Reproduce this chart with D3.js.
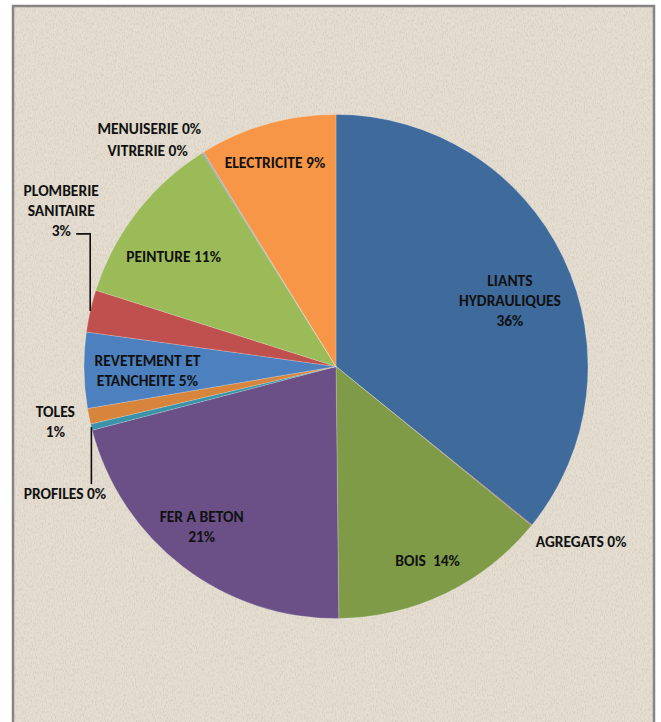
<!DOCTYPE html>
<html>
<head>
<meta charset="utf-8">
<script src="https://cdn.jsdelivr.net/npm/d3@7"></script>
<style>
  body { margin: 0; background: #fff; }
  svg text { font-family: Carlito, Calibri, Lato, sans-serif; font-weight: 700; font-size: 15.5px; fill: #111; }
</style>
</head>
<body>
<svg width="661" height="722"></svg>
<script>
const categories = ["LIANTS HYDRAULIQUES", "AGREGATS", "BOIS", "FER A BETON", "PROFILES", "TOLES",
  "REVETEMENT ET ETANCHEITE", "PLOMBERIE SANITAIRE", "PEINTURE", "VITRERIE", "MENUISERIE", "ELECTRICITE"];
const shares = [35.8, 0.05, 13.95, 21.1, 0.4, 1.0, 4.85, 2.7, 11.2, 0.05, 0.05, 8.8];
// label lines as printed on the chart ("" = the percent goes on its own line)
const labelLines = [["LIANTS", "HYDRAULIQUES", ""], ["AGREGATS"], ["BOIS "], ["FER A BETON", ""], ["PROFILES"], ["TOLES", ""],
  ["REVETEMENT ET", "ETANCHEITE"], ["PLOMBERIE", "SANITAIRE", ""], ["PEINTURE"], ["VITRERIE"], ["MENUISERIE"], ["ELECTRICITE"]];
const colors = ["#3F6A9C", "#A0413E", "#7F9B48", "#6A5087", "#3B93AA", "#D7843D",
  "#4C80BF", "#C0504D", "#9BBB59", "#8064A2", "#4BACC6", "#F79646"];

const svg = d3.select("svg");
const cx = 336, cy = 366.5, r = 252;

// background + frame
const defs = svg.append("defs");
const f = defs.append("filter").attr("id", "paper").attr("x", 0).attr("y", 0).attr("width", 1).attr("height", 1);
f.append("feTurbulence").attr("type", "fractalNoise").attr("baseFrequency", "0.9 0.35").attr("numOctaves", 2).attr("seed", 3).attr("result", "n");
f.append("feColorMatrix").attr("in", "n").attr("type", "matrix")
  .attr("values", "0 0 0 0 0.55  0 0 0 0 0.5  0 0 0 0 0.42  0 0 0 -1.1 0.62").attr("result", "c");
f.append("feComposite").attr("in", "c").attr("in2", "SourceGraphic").attr("operator", "in");

svg.append("rect").attr("x", 13).attr("y", 6).attr("width", 641).attr("height", 730).attr("fill", "#E4DDD0");
svg.append("rect").attr("x", 13).attr("y", 6).attr("width", 641).attr("height", 730).attr("fill", "#E4DDD0").attr("filter", "url(#paper)");
svg.append("rect").attr("x", 13).attr("y", 6).attr("width", 641).attr("height", 730)
  .attr("fill", "none").attr("stroke", "#858585").attr("stroke-width", 2.5);

const pie = d3.pie().sort(null).value(d => d);
const arcs = pie(shares);
const arc = d3.arc().innerRadius(0).outerRadius(r);
const total = d3.sum(shares);

const g = svg.append("g").attr("transform", `translate(${cx},${cy})`);
g.selectAll("path").data(arcs).join("path")
  .attr("d", arc)
  .attr("fill", (d, i) => colors[i])
  .attr("stroke", "rgba(255,255,255,0.4)")
  .attr("stroke-width", 0.5);

// label placement: [radius factor, dx, dy, anchor]
const place = {
  "LIANTS HYDRAULIQUES": [0.8, -8, 21, "middle"],
  "AGREGATS": [1, 4, 16, "start"],
  "BOIS": [0.8, 4, 12, "middle"],
  "FER A BETON": [0.8, -12, 0, "middle"],
  "PROFILES": [1, -26.5, 66, "middle"],
  "TOLES": [1, -33.6, 5, "middle"],
  "REVETEMENT ET ETANCHEITE": [0.8, 13, 1, "middle"],
  "PLOMBERIE SANITAIRE": [1, -29, -100, "middle"],
  "PEINTURE": [0.8, -3, 13.5, "middle"],
  "VITRERIE": [1, -55, -2, "middle"],
  "MENUISERIE": [1, -54, -23.6, "middle"],
  "ELECTRICITE": [0.8, -6, -10, "middle"]
};
const lineH = 20;
const mid = d => (d.startAngle + d.endAngle) / 2;
const polar = (a, rad) => [rad * Math.sin(a), -rad * Math.cos(a)];

arcs.forEach((d, i) => {
  const [k, dx, dy, anchor] = place[categories[i]];
  const [px, py] = polar(mid(d), r * k);
  const lx = px + dx, ly = py + dy;
  const pct = Math.round(shares[i] / total * 100) + "%";
  const lines = labelLines[i].slice();
  const last = lines.length - 1;
  lines[last] = lines[last] === "" ? pct : lines[last] + " " + pct;
  const t = g.append("text").attr("text-anchor", anchor).attr("xml:space", "preserve");
  lines.forEach((s, j) => {
    t.append("tspan").attr("x", lx).attr("y", ly + (j - (lines.length - 1) / 2) * lineH)
      .attr("dy", "0.35em").text(s);
  });
});

// leader lines
const lead = d3.line();
function edge(name) {
  const i = categories.indexOf(name);
  return polar(mid(arcs[i]), r);
}
const pr = edge("PROFILES");
g.append("path").attr("d", lead([pr, [pr[0], pr[1] + 57]]))
  .attr("fill", "none").attr("stroke", "#111").attr("stroke-width", 1.6);
const pl = edge("PLOMBERIE SANITAIRE");
g.append("path").attr("d", lead([pl, [pl[0], pl[1] - 77], [pl[0] - 14, pl[1] - 77]]))
  .attr("fill", "none").attr("stroke", "#111").attr("stroke-width", 1.6);
</script>
</body>
</html>
